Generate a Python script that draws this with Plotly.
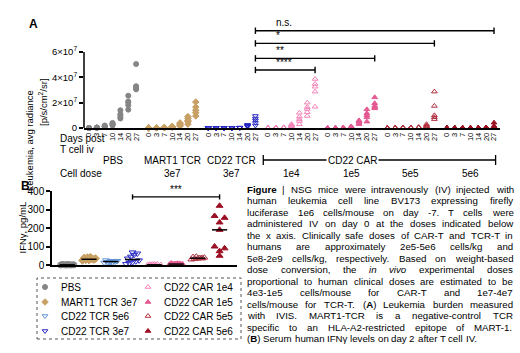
import re
import numpy as np
import plotly.graph_objects as go

W, H = 520, 353
FONT = "Liberation Sans, Arial, sans-serif"

# ---------------- data: panel A (radiance, units of 1e7 p/s/cm2/sr) ----------------
days = [0, 3, 7, 10, 14, 20, 27]
group_labels_a = ["PBS", "MART1 TCR", "CD22 TCR"]
dose_labels_a = ["", "3e7", "3e7"]
car_dose_labels = ["1e4", "1e5", "5e5", "5e6"]

pbs_a = [[0, 0, 0, 0, 0], [0.02, 0.03, 0.02, 0.04, 0.03], [0.1, 0.15, 0.12, 0.2, 0.1],
         [0.2, 0.3, 0.35, 0.4, 0.25], [0.75, 0.85, 1.0, 1.1, 1.4],
         [1.45, 1.8, 2.0, 2.1, 2.55], [3.05, 3.15, 3.25, 3.3, 5.05]]
mart1_a = [[0, 0, 0, 0, 0], [0.01, 0.02, 0.01, 0.02, 0.01], [0.02, 0.03, 0.02, 0.04, 0.03],
           [0.05, 0.1, 0.08, 0.12, 0.1], [0.15, 0.2, 0.3, 0.35, 0.4],
           [0.3, 0.5, 0.6, 0.75, 0.9], [0.95, 1.2, 1.4, 1.65, 2.05]]
tcr3e7_a = [[0, 0, 0, 0, 0], [0, 0, 0, 0, 0], [0, 0, 0, 0, 0], [0, 0.01, 0, 0.01, 0],
            [0.02, 0.03, 0.02, 0.03, 0.02], [0.1, 0.15, 0.2, 0.2, 0.25],
            [0.2, 0.4, 0.6, 0.75, 0.95]]
car1e4_a = [[0, 0, 0, 0, 0], [0.02, 0.02, 0.03, 0.02, 0.02], [0.03, 0.04, 0.03, 0.05, 0.04],
            [0.1, 0.2, 0.3, 0.25, 0.15], [0.3, 0.55, 0.7, 0.9, 1.2],
            [0.95, 1.25, 1.5, 1.65, 2.0], [1.68, 2.87, 3.26, 3.47, 3.87]]
car1e5_a = [[0, 0, 0, 0, 0], [0.01, 0.02, 0.01, 0.02, 0.01], [0.02, 0.03, 0.02, 0.03, 0.02],
            [0.05, 0.1, 0.08, 0.12, 0.1], [0.3, 0.4, 0.5, 0.55, 0.6],
            [0.5, 0.84, 1.0, 1.16, 1.47], [1.55, 1.65, 1.74, 1.95, 2.42]]
car5e5_a = [[0, 0, 0, 0, 0], [0, 0.01, 0, 0.01, 0], [0.01, 0.01, 0.02, 0.01, 0.01],
            [0.02, 0.02, 0.03, 0.02, 0.02], [0.03, 0.05, 0.04, 0.06, 0.05],
            [0.05, 0.1, 0.15, 0.2, 0.3], [0.7, 0.85, 1.0, 1.74, 2.87]]
car5e6_a = [[0, 0, 0, 0, 0], [0, 0, 0, 0, 0], [0, 0.01, 0, 0.01, 0], [0.01, 0.01, 0.02, 0.01, 0.01],
            [0.01, 0.02, 0.01, 0.02, 0.01], [0.02, 0.03, 0.02, 0.04, 0.03],
            [0.0, 0.05, 0.1, 0.15, 0.42]]

sig_labels_a = ["n.s.", "*", "**", "****"]
sig_target_group = [6, 5, 4, 3]          # compared with CD22 TCR 3e7 at day 27
sig_y_a = [7.68, 6.68, 5.5, 4.58]        # bracket heights (1e7)

# ---------------- data: panel B (IFNγ pg/mL) ----------------
b_pbs = [0, 1, 2, 0, 1, 3, 0, 2, 1, 1]
b_mart1 = [25, 28, 30, 32, 35, 38, 40, 42, 30, 27]
b_tcr5e6 = [12, 15, 18, 20, 22, 25, 16, 14, 19, 21]
b_tcr3e7 = [5, 10, 15, 20, 25, 35, 45, 55, 62, 68]
b_car1e4 = [0, 1, 2, 3, 0, 1, 2, 1]
b_car1e5 = [2, 4, 5, 6, 3, 8, 5, 7, 4]
b_car5e5 = [30, 33, 35, 37, 40, 43, 45, 38, 36]
b_car5e6 = [50, 75, 90, 100, 190, 230, 255, 265, 320]
b_spread = [-0.3, -0.15, 0, 0.15, 0.3, -0.22, -0.07, 0.07, 0.22, 0]
b_spread_5e6 = [0, 0, 0.23, -0.23, 0, 0, 0.23, -0.23, 0]
b_sig_label = "***"
b_sig_y = 368

# ---------------- styles ----------------
names = ["PBS", "MART1 TCR 3e7", "CD22 TCR 5e6", "CD22 TCR 3e7",
         "CD22 CAR 1e4", "CD22 CAR 1e5", "CD22 CAR 5e5", "CD22 CAR 5e6"]
colors = ["#858585", "#C9A064", "#5E92D8", "#2626C4",
          "#F283B8", "#E45A93", "#B0303F", "#9C1024"]
symbols = ["circle", "diamond", "triangle-down-open", "triangle-down-open",
           "triangle-up-open", "triangle-up", "triangle-up-open", "triangle-up"]

a_series = [pbs_a, mart1_a, tcr3e7_a, car1e4_a, car1e5_a, car5e5_a, car5e6_a]
a_style_idx = [0, 1, 3, 4, 5, 6, 7]
b_series = [b_pbs, b_mart1, b_tcr5e6, b_tcr3e7, b_car1e4, b_car1e5, b_car5e5, b_car5e6]

GSTEP = 7.6
XA0, XA1 = -0.637, 52.36
A_L, A_R = 84, 500
A_BOT, A_TOP, A_6 = 128, 18, 52
YA_MAX = 6 * (A_BOT - A_TOP) / (A_BOT - A_6)


def ax_px(pos):
    return A_L + (pos - XA0) * (A_R - A_L) / (XA1 - XA0)


def px(x):
    return x / W


def py(y):
    return 1 - y / H


fig = go.Figure()

# panel A points
tickvals, ticktext = [], []
for g, (series, si) in enumerate(zip(a_series, a_style_idx)):
    xs, ys = [], []
    for i, vals in enumerate(series):
        pos = g * GSTEP + i
        tickvals.append(pos)
        ticktext.append(str(days[i]))
        for v in vals:
            xs.append(pos)
            ys.append(v * 1e7)
    fig.add_trace(go.Scatter(
        x=xs, y=ys, mode="markers", xaxis="x", yaxis="y", showlegend=False,
        cliponaxis=False,
        marker=dict(symbol=symbols[si], color=colors[si], size=5,
                    line=dict(width=1, color=colors[si]))))

# significance brackets panel A
tcr_d27 = 2 * GSTEP + 6
shapes = []
annotations = []
for lab, tg, yb in zip(sig_labels_a, sig_target_group, sig_y_a):
    xr = tg * GSTEP + 6
    yv = yb * 1e7
    fig.add_trace(go.Scatter(
        x=[tcr_d27, tcr_d27, None, tcr_d27, xr, None, xr, xr],
        y=[yv - 0.25e7, yv + 0.25e7, None, yv, yv, None, yv - 0.25e7, yv + 0.25e7],
        mode="lines", line=dict(color="black", width=1.4), xaxis="x", yaxis="y",
        showlegend=False, hoverinfo="skip"))
    annotations.append(dict(text=lab, x=tcr_d27 + 2.5, y=yv + 0.1e7, xref="x", yref="y",
                            xanchor="left", yanchor="bottom", showarrow=False,
                            font=dict(size=10), borderpad=0))

# y-axis line for A (only up to 6e7)
shapes.append(dict(type="line", xref="paper", yref="paper", x0=px(A_L), x1=px(A_L),
                   y0=py(A_BOT), y1=py(A_6), line=dict(color="black", width=1.5)))

# group labels panel A
for g, (gl, dl) in enumerate(zip(group_labels_a, dose_labels_a)):
    c = g * GSTEP + 3
    annotations.append(dict(text=gl, x=c, y=py(160), xref="x", yref="paper",
                            showarrow=False, font=dict(size=10), yanchor="middle"))
    if dl:
        annotations.append(dict(text=dl, x=c, y=py(173), xref="x", yref="paper",
                                showarrow=False, font=dict(size=10), yanchor="middle"))
for k, dl in enumerate(car_dose_labels):
    c = (3 + k) * GSTEP + 3
    annotations.append(dict(text=dl, x=c, y=py(173), xref="x", yref="paper",
                            showarrow=False, font=dict(size=10), yanchor="middle"))
car_l = ax_px(3 * GSTEP - 0.6)
car_r = ax_px(6 * GSTEP + 6.2)
shapes += [
    dict(type="line", xref="paper", yref="paper", x0=px(car_l), x1=px(car_r),
         y0=py(160), y1=py(160), line=dict(color="black", width=1.3)),
    dict(type="line", xref="paper", yref="paper", x0=px(car_l), x1=px(car_l),
         y0=py(155), y1=py(165), line=dict(color="black", width=1.3)),
    dict(type="line", xref="paper", yref="paper", x0=px(car_r), x1=px(car_r),
         y0=py(155), y1=py(165), line=dict(color="black", width=1.3)),
]
annotations.append(dict(text="CD22 CAR", x=px((car_l + car_r) / 2), y=py(160),
                        xref="paper", yref="paper", showarrow=False, font=dict(size=10),
                        bgcolor="white", borderpad=1, yanchor="middle"))
annotations += [
    dict(text="Days post", x=px(58), y=py(139), xref="paper", yref="paper",
         showarrow=False, font=dict(size=10), yanchor="middle"),
    dict(text="T cell iv", x=px(58), y=py(150), xref="paper", yref="paper",
         showarrow=False, font=dict(size=10), yanchor="middle"),
    dict(text="Cell dose", x=px(58), y=py(173), xref="paper", yref="paper",
         showarrow=False, font=dict(size=10), yanchor="middle"),
    dict(text="<b>A</b>", x=px(27), y=py(24), xref="paper", yref="paper",
         showarrow=False, font=dict(size=12), yanchor="middle"),
    dict(text="<b>B</b>", x=px(19), y=py(186), xref="paper", yref="paper",
         showarrow=False, font=dict(size=12), yanchor="middle"),
    dict(text="Leukemia, avg radiance", x=px(22), y=py(88), xref="paper", yref="paper",
         showarrow=False, font=dict(size=9.5), textangle=-90),
    dict(text="[p/s/cm<sup>2</sup>/sr]", x=px(35), y=py(76), xref="paper", yref="paper",
         showarrow=False, font=dict(size=9.5), textangle=-90),
    dict(text="IFNγ, pg/mL", x=px(14), y=py(228), xref="paper", yref="paper",
         showarrow=False, font=dict(size=9.5), textangle=-90),
]

# panel B points
for k, vals in enumerate(b_series):
    spread = b_spread_5e6 if k == 7 else b_spread
    xs = [k + spread[j % len(spread)] for j in range(len(vals))]
    fig.add_trace(go.Scatter(
        x=xs, y=vals, mode="markers", xaxis="x2", yaxis="y2", name=names[k],
        showlegend=False, cliponaxis=False,
        marker=dict(symbol=symbols[k], color=colors[k], size=6,
                    line=dict(width=1, color=colors[k]))))
# medians
mx, my = [], []
for k, vals in enumerate(b_series):
    m = float(np.median(vals))
    mx += [k - 0.35, k + 0.35, None]
    my += [m, m, None]
fig.add_trace(go.Scatter(x=mx, y=my, mode="lines", xaxis="x2", yaxis="y2",
                         line=dict(color="black", width=1.5), showlegend=False,
                         cliponaxis=False, hoverinfo="skip"))
# bracket B
fig.add_trace(go.Scatter(x=[3, 3, None, 3, 7, None, 7, 7],
                         y=[b_sig_y - 14, b_sig_y + 14, None, b_sig_y, b_sig_y, None,
                            b_sig_y - 14, b_sig_y + 14],
                         mode="lines", xaxis="x2", yaxis="y2", showlegend=False,
                         line=dict(color="black", width=1.4), cliponaxis=False,
                         hoverinfo="skip"))
annotations.append(dict(text=b_sig_label, x=5, y=b_sig_y + 6, xref="x2", yref="y2",
                        yanchor="bottom", showarrow=False, font=dict(size=10), borderpad=0))

# legend (manual, on hidden axes in pixel units)
LEG_L, LEG_R, LEG_T, LEG_B = 37, 241, 278, 339
leg_cols_x = [8, 111]
leg_rows_y = [9, 24, 38, 53]
for k, nm in enumerate(names):
    cx = leg_cols_x[k // 4]
    ry = leg_rows_y[k % 4]
    fig.add_trace(go.Scatter(x=[cx], y=[ry], mode="markers", xaxis="x3", yaxis="y3",
                             showlegend=False, hoverinfo="skip",
                             marker=dict(symbol=symbols[k], color=colors[k], size=5,
                                         line=dict(width=1, color=colors[k]))))
    annotations.append(dict(text=nm, x=cx + 14, y=ry, xref="x3", yref="y3",
                            xanchor="left", yanchor="middle", showarrow=False,
                            font=dict(size=10)))
shapes.append(dict(type="rect", xref="paper", yref="paper", x0=px(LEG_L), x1=px(LEG_R),
                   y0=py(LEG_B), y1=py(LEG_T), line=dict(color="#555555", width=1, dash="dot")))

# caption (justified)
caption_lines = [
    "<b>Figure</b> | NSG mice were intravenously (IV) injected with",
    "human leukemia cell line BV173 expressing firefly",
    "luciferase 1e6 cells/mouse on day -7. T cells were",
    "administered IV on day 0 at the doses indicated below",
    "the x axis. Clinically safe doses of CAR-T and TCR-T in",
    "humans are approximately 2e5-5e6 cells/kg and",
    "5e8-2e9 cells/kg, respectively. Based on weight-based",
    "dose conversion, the <i>in</i> <i>vivo</i> experimental doses",
    "proportional to human clinical doses are estimated to be",
    "4e3-1e5 cells/mouse for CAR-T and 1e7-4e7",
    "cells/mouse for TCR-T. (<b>A</b>) Leukemia burden measured",
    "with IVIS. MART1-TCR is a negative-control TCR",
    "specific to an HLA-A2-restricted epitope of MART-1.",
    "(<b>B</b>) Serum human IFNγ levels on day 2 after T cell IV.",
]
HELV = dict(zip(" !\"#$%&'()*+,-./", [278, 278, 355, 556, 556, 889, 667, 191, 333, 333, 389, 584, 278, 333, 278, 278]))
HELV.update({d: 556 for d in "0123456789"})
HELV.update(zip(":;<=>?", [278, 278, 584, 584, 584, 556]))
HELV.update(zip("ABCDEFGHIJKLMNOPQRSTUVWXYZ",
                [667, 667, 722, 722, 667, 611, 778, 722, 278, 500, 667, 556, 833, 722, 778, 667,
                 778, 722, 667, 611, 722, 667, 944, 667, 667, 611]))
HELV.update(zip("abcdefghijklmnopqrstuvwxyz",
                [556, 556, 500, 556, 556, 278, 556, 556, 222, 222, 500, 222, 833, 556, 556, 556,
                 556, 333, 500, 278, 556, 500, 722, 500, 500, 500]))
HELV.update({"|": 260, "γ": 500})
CAP_FS = 9.7
CAP_L, CAP_R = 246, 512
CAP_TOP, CAP_LH = 189, 11.5


def word_w(w):
    bold = "<b>" in w
    plain = re.sub(r"<[^>]+>", "", w)
    return sum(HELV.get(c, 556) for c in plain) * CAP_FS / 1000 * (1.06 if bold else 1.0)


for k, line in enumerate(caption_lines):
    words = line.split(" ")
    widths = [word_w(w) for w in words]
    if k == len(caption_lines) - 1:
        gap = HELV[" "] * CAP_FS / 1000
    else:
        gap = (CAP_R - CAP_L - sum(widths)) / (len(words) - 1)
    x = CAP_L
    for w, ww in zip(words, widths):
        annotations.append(dict(text=w, x=px(x), y=py(CAP_TOP + k * CAP_LH), xref="paper",
                                yref="paper", xanchor="left", yanchor="middle",
                                showarrow=False, font=dict(size=CAP_FS), borderpad=0))
        x += ww + gap

fig.update_layout(
    width=W, height=H, margin=dict(l=0, r=0, t=0, b=0, autoexpand=False),
    paper_bgcolor="white", plot_bgcolor="white", hovermode=False,
    font=dict(family=FONT, color="black"), showlegend=False,
    xaxis=dict(domain=[px(A_L), px(A_R)], range=[XA0, XA1], anchor="y",
               showline=True, linecolor="black", linewidth=1.5, ticks="",
               tickvals=tickvals, ticktext=ticktext, tickangle=-90,
               tickfont=dict(size=7.5), showgrid=False, zeroline=False),
    yaxis=dict(domain=[py(A_BOT), py(A_TOP)], range=[0, YA_MAX * 1e7], anchor="x",
               showline=False, ticks="outside", ticklen=4, tickwidth=1.5, tickcolor="black",
               tickvals=[0, 2e7, 4e7, 6e7],
               ticktext=["0", "2×10<sup>7</sup>", "4×10<sup>7</sup>", "6×10<sup>7</sup>"],
               tickfont=dict(size=9.5), showgrid=False, zeroline=False),
    xaxis2=dict(domain=[px(52), px(237)], range=[-0.7, 7.8], anchor="y2",
                showline=True, linecolor="black", linewidth=1.5, ticks="",
                showticklabels=False, showgrid=False, zeroline=False),
    yaxis2=dict(domain=[py(265), py(191)], range=[0, 400], anchor="x2",
                showline=True, linecolor="black", linewidth=1.5, ticks="outside",
                ticklen=4, tickwidth=1.5, tickcolor="black",
                tickvals=[0, 100, 200, 300, 400], tickfont=dict(size=10),
                showgrid=False, zeroline=False),
    xaxis3=dict(domain=[px(LEG_L), px(LEG_R)], range=[0, LEG_R - LEG_L], anchor="y3",
                visible=False, fixedrange=True),
    yaxis3=dict(domain=[py(LEG_B), py(LEG_T)], range=[LEG_B - LEG_T, 0], anchor="x3",
                visible=False, fixedrange=True),
    shapes=shapes, annotations=annotations,
)

fig.write_html("out.html", config={"displayModeBar": False},
               post_script="document.body.style.margin='0px';")
